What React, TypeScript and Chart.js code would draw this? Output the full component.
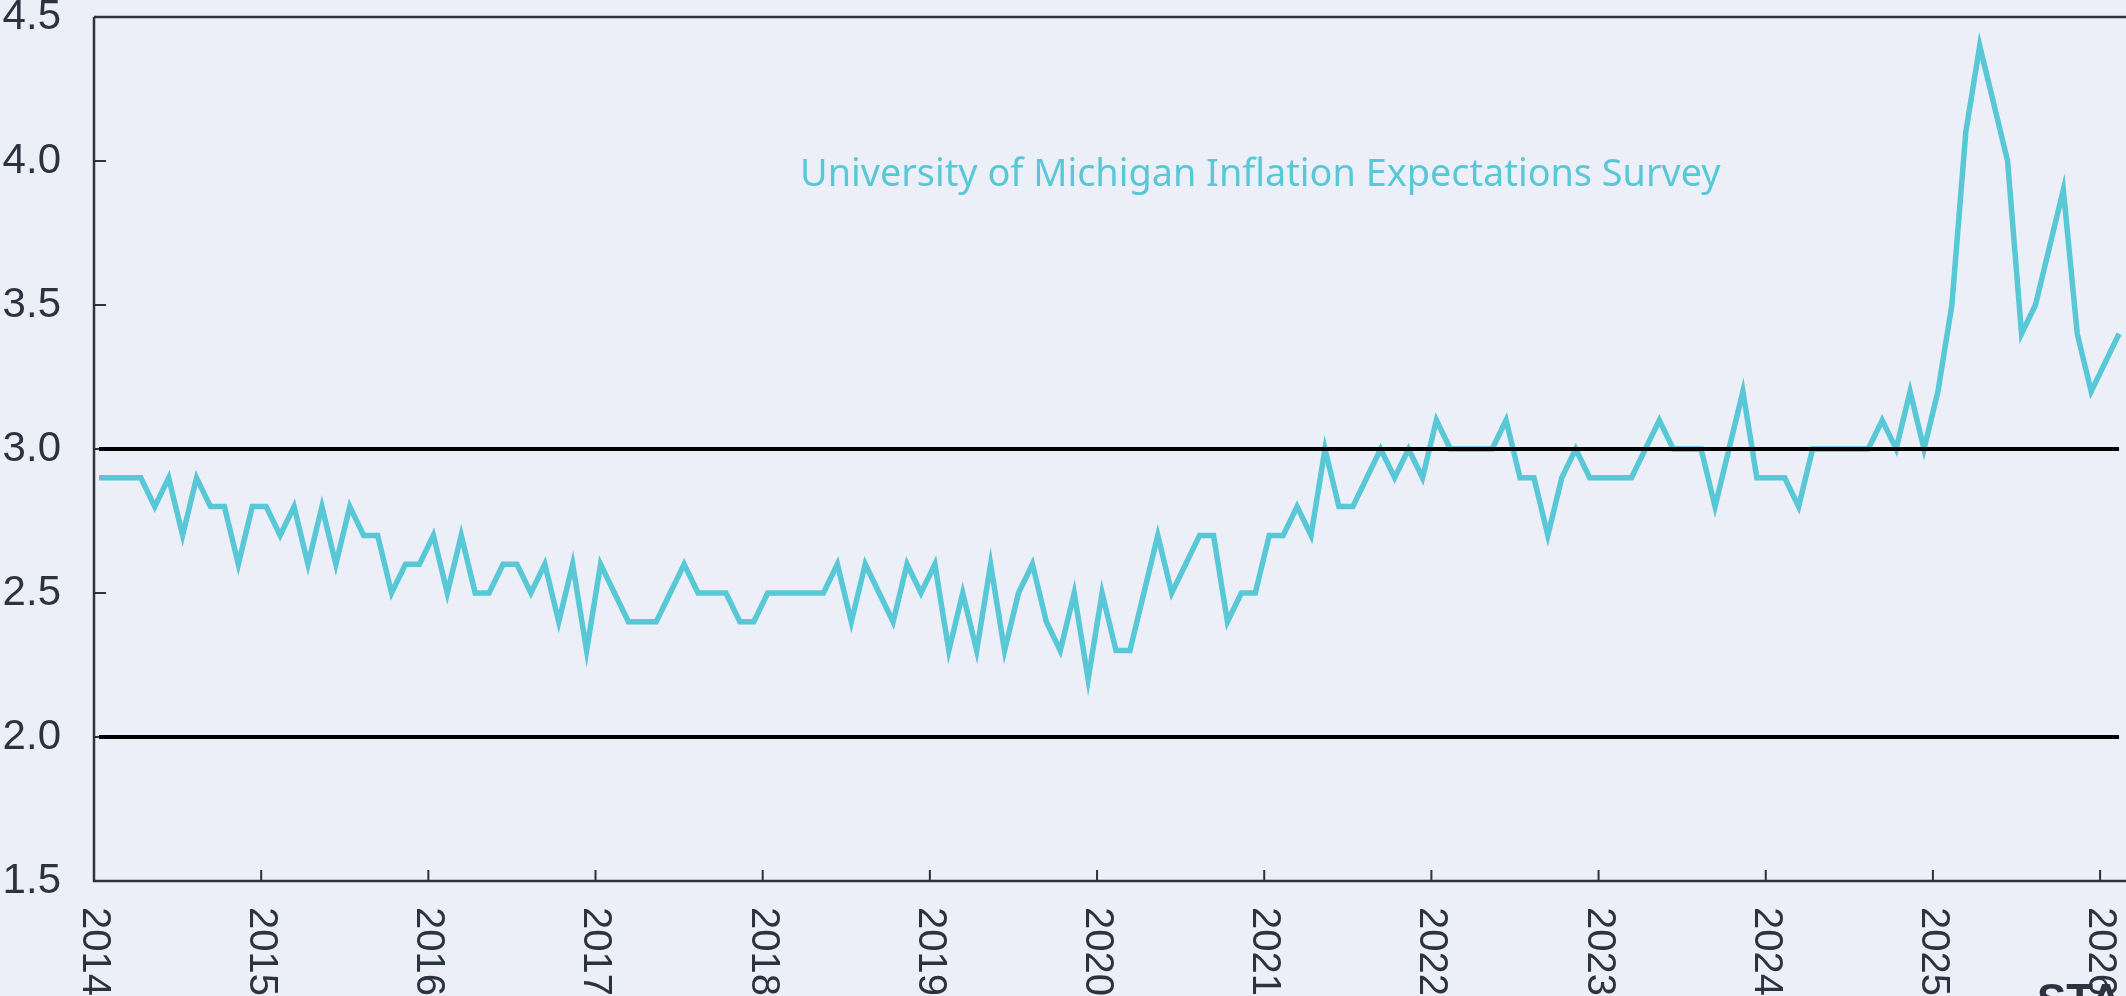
import React, { useEffect, useRef } from "react";
import { Chart, registerables } from "chart.js";

Chart.register(...registerables);

// ---- data ----
const START_YEAR = 2014;
const START_MONTH = 1;
const SURVEY_DAY = 12;

// monthly, Jan 2014 .. Feb 2026
const expectations2014to2017 = [
  2.9, 2.9, 2.9, 2.9, 2.8, 2.9, 2.7, 2.9, 2.8, 2.8, 2.6, 2.8,
  2.8, 2.7, 2.8, 2.6, 2.8, 2.6, 2.8, 2.7, 2.7, 2.5, 2.6, 2.6,
  2.7, 2.5, 2.7, 2.5, 2.5, 2.6, 2.6, 2.5, 2.6, 2.4, 2.6, 2.3,
  2.6, 2.5, 2.4, 2.4, 2.4, 2.5, 2.6, 2.5, 2.5, 2.5, 2.4, 2.4,
];
const expectations2018to2021 = [
  2.5, 2.5, 2.5, 2.5, 2.5, 2.6, 2.4, 2.6, 2.5, 2.4, 2.6, 2.5,
  2.6, 2.3, 2.5, 2.3, 2.6, 2.3, 2.5, 2.6, 2.4, 2.3, 2.5, 2.2,
  2.5, 2.3, 2.3, 2.5, 2.7, 2.5, 2.6, 2.7, 2.7, 2.4, 2.5, 2.5,
  2.7, 2.7, 2.8, 2.7, 3.0, 2.8, 2.8, 2.9, 3.0, 2.9, 3.0, 2.9,
];
const expectations2022to2026 = [
  3.1, 3.0, 3.0, 3.0, 3.0, 3.1, 2.9, 2.9, 2.7, 2.9, 3.0, 2.9,
  2.9, 2.9, 2.9, 3.0, 3.1, 3.0, 3.0, 3.0, 2.8, 3.0, 3.2, 2.9,
  2.9, 2.9, 2.8, 3.0, 3.0, 3.0, 3.0, 3.0, 3.1, 3.0, 3.2, 3.0,
  3.2, 3.5, 4.1, 4.4, 4.2, 4.0, 3.4, 3.5, 3.7, 3.9, 3.4, 3.2,
  3.3, 3.4,
];
const expectations = [
  ...expectations2014to2017,
  ...expectations2018to2021,
  ...expectations2022to2026,
];

const referenceLevels = [2.0, 3.0];
const yearTicks = [2014, 2015, 2016, 2017, 2018, 2019, 2020, 2021, 2022, 2023, 2024, 2025, 2026];
const valueTicks = [1.5, 2.0, 2.5, 3.0, 3.5, 4.0, 4.5];
const seriesLabel = "University of Michigan Inflation Expectations Survey";
const cornerText = "STA";

// ---- style ----
const TEAL = "#58c8d7";
const AXIS = "#2b3341";
const BG = "#eceff8";
const TICK_FAMILY = "'Liberation Sans', Arial, sans-serif";

function monthToDecimalYear(k: number): number {
  const m = START_MONTH - 1 + k;
  const y = START_YEAR + Math.floor(m / 12);
  return y + ((m % 12) + (SURVEY_DAY - 1) / 30.5) / 12;
}

const framePlugin = {
  id: "frame",
  beforeDatasetsDraw(chart: any) {
    const { ctx, chartArea, scales } = chart;
    const xs = scales.x;
    const ys = scales.y;
    ctx.save();
    ctx.strokeStyle = AXIS;
    ctx.lineWidth = 2.5;
    ctx.beginPath();
    ctx.moveTo(chartArea.left, chartArea.top);
    ctx.lineTo(chartArea.right, chartArea.top);
    ctx.moveTo(chartArea.left, chartArea.top);
    ctx.lineTo(chartArea.left, chartArea.bottom);
    ctx.lineTo(chartArea.right, chartArea.bottom);
    ctx.stroke();

    ctx.lineWidth = 2;
    ctx.beginPath();
    for (const v of valueTicks) {
      const py = ys.getPixelForValue(v);
      ctx.moveTo(chartArea.left, py);
      ctx.lineTo(chartArea.left + 12, py);
    }
    for (const yr of yearTicks) {
      const px = xs.getPixelForValue(yr);
      ctx.moveTo(px, chartArea.bottom);
      ctx.lineTo(px, chartArea.bottom - 11);
    }
    ctx.stroke();

    ctx.fillStyle = AXIS;
    ctx.font = `40px ${TICK_FAMILY}`;
    ctx.textAlign = "left";
    ctx.textBaseline = "middle";
    for (const yr of yearTicks) {
      const px = xs.getPixelForValue(yr);
      ctx.save();
      ctx.translate(px, chartArea.bottom + 26);
      ctx.rotate(Math.PI / 2);
      ctx.fillText(String(yr), 0, 0);
      ctx.restore();
    }

    // partially visible text cut at the bottom-right corner
    ctx.font = `bold 44px ${TICK_FAMILY}`;
    ctx.textBaseline = "alphabetic";
    ctx.fillText(cornerText, 2037, 1015);
    ctx.restore();
  },
  afterDatasetsDraw(chart: any) {
    const { ctx } = chart;
    ctx.save();
    ctx.fillStyle = TEAL;
    ctx.font = "37.8px 'Noto Sans', 'Open Sans', sans-serif";
    ctx.textAlign = "left";
    ctx.textBaseline = "alphabetic";
    ctx.fillText(seriesLabel, 800, 186);
    ctx.restore();
  },
};

export default function App() {
  const canvasRef = useRef<HTMLCanvasElement | null>(null);

  useEffect(() => {
    const canvas = canvasRef.current;
    if (!canvas) return;
    const xs = expectations.map((_, k) => monthToDecimalYear(k));
    const first = xs[0];
    const last = xs[xs.length - 1];

    const refSets = referenceLevels.map((lvl) => ({
      label: `ref ${lvl}`,
      data: [
        { x: first, y: lvl },
        { x: last, y: lvl },
      ],
      borderColor: "#000000",
      borderWidth: 4,
      pointRadius: 0,
      tension: 0,
      order: 0,
    }));

    const chart = new Chart(canvas, {
      type: "line",
      data: {
        datasets: [
          ...refSets,
          {
            label: seriesLabel,
            data: expectations.map((v, k) => ({ x: xs[k], y: v })),
            borderColor: TEAL,
            borderWidth: 5.5,
            pointRadius: 0,
            tension: 0,
            borderJoinStyle: "miter",
            order: 1,
          },
        ],
      },
      options: {
        responsive: false,
        animation: false,
        events: [],
        layout: { padding: { top: 17, right: 0, bottom: 0, left: 0 } },
        plugins: {
          legend: { display: false },
          tooltip: { enabled: false },
          title: { display: false },
        },
        scales: {
          x: {
            type: "linear",
            min: 2014,
            max: 2026.155,
            grid: { display: false },
            border: { display: false },
            ticks: { display: false },
            afterFit: (scale: any) => {
              scale.height = 115;
              scale.paddingLeft = 0;
              scale.paddingRight = 0;
            },
          },
          y: {
            type: "linear",
            min: 1.5,
            max: 4.5,
            grid: { display: false, drawTicks: false },
            border: { display: false },
            ticks: {
              stepSize: 0.5,
              padding: 33,
              color: AXIS,
              font: { family: TICK_FAMILY, size: 42 },
              callback: (v: any) => Number(v).toFixed(1),
            },
            afterFit: (scale: any) => {
              scale.width = 94;
              scale.paddingTop = 0;
              scale.paddingBottom = 0;
            },
          },
        },
      },
      plugins: [framePlugin],
    });
    return () => chart.destroy();
  }, []);

  return (
    <div
      style={{
        position: "fixed",
        left: 0,
        top: 0,
        width: 2126,
        height: 996,
        background: BG,
        overflow: "hidden",
      }}
    >
      <canvas ref={canvasRef} width={2126} height={996} style={{ display: "block" }} />
    </div>
  );
}
